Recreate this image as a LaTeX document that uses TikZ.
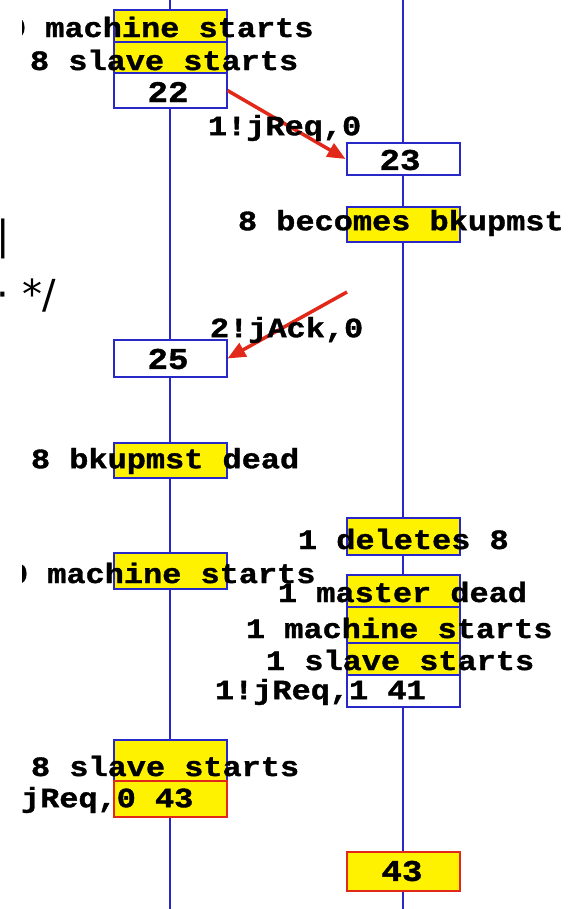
\documentclass[tikz,border=0pt]{standalone}
\usepackage{fontspec}
\usepackage{tikz}
\usetikzlibrary{positioning,arrows.meta}

\newfontfamily\mscfont[FakeStretch=1.14,FakeBold=1.3]{Liberation Mono}
\newfontfamily\edfont{DejaVu Sans}
\definecolor{mscblue}{RGB}{40,40,200}
\definecolor{mscred}{RGB}{225,40,25}

\begin{document}
\begin{tikzpicture}[x=1pt,y=-1pt,>={Triangle[length=18pt,width=15pt]},line width=2pt]
  \tikzstyle{evbox}=[rectangle,draw=mscblue,fill=yellow,minimum width=113pt,inner sep=0pt]
  \tikzstyle{stepbox}=[evbox,fill=white]
  \tikzstyle{endbox}=[evbox,draw=mscred]
  \tikzstyle{msg}=[font=\mscfont\bfseries\fontsize{28}{30}\selectfont,anchor=west,inner sep=0pt]
  \tikzstyle{num}=[font=\mscfont\bfseries\fontsize{30}{32}\selectfont,inner sep=0pt]
  \tikzstyle{sig}=[->,draw=mscred,line width=3.5pt]
  \tikzstyle{edtext}=[font=\edfont\fontsize{40}{40}\selectfont,anchor=west,inner sep=0pt]

  \useasboundingbox (0,0) rectangle (574,909);

  % lifelines of the two processes
  \coordinate (p0top) at (170,0);  \coordinate (p0bot) at (170,909);
  \coordinate (p1top) at (403,0);  \coordinate (p1bot) at (403,909);
  \draw[mscblue] (p0top) -- (p0bot);
  \draw[mscblue] (p1top) -- (p1bot);

  % process 0
  \node[evbox,minimum height=32pt]   (mach0)  at (170,26)    {};
  \node[evbox,minimum height=31pt]   (slave0) at (170,57.5)  {};
  \node[stepbox,minimum height=35pt] (s22)    at (170,90.5)  {};
  \node[stepbox,minimum height=37pt] (s25)    at (170,358.5) {};
  \node[evbox,minimum height=35pt]   (bkdead) at (170,460.5) {};
  \node[evbox,minimum height=36pt]   (mach0b) at (170,571)   {};
  \node[evbox,minimum height=41pt]   (slave0b) at (170,760.5) {};
  \node[endbox,minimum height=36pt]  (s43a)   at (170,799)   {};

  % process 1
  \node[stepbox,minimum height=32pt] (s23)    at (403,159)   {};
  \node[evbox,minimum height=35pt]   (becomes) at (403,224.5) {};
  \node[evbox,minimum height=37pt]   (deletes) at (403,536.5) {};
  \node[evbox,minimum height=32pt]   (mdead)  at (403,591)   {};
  \node[evbox,minimum height=36pt]   (mach1)  at (403,625)   {};
  \node[evbox,minimum height=32pt]   (slave1) at (403,659)   {};
  \node[stepbox,minimum height=32pt] (s41)    at (403,691)   {};
  \node[endbox,minimum height=39pt]  (s43b)   at (403,871.5) {};

  % messages
  \coordinate (ackfrom) at (347,292);
  \draw[sig] (s22.east) -- (s23.west);
  \draw[sig] (ackfrom) -- (s25.east);

  % step numbers
  \node[num] (n22) at (168,92)  {22};
  \node[num] (n23) at (400,160) {23};
  \node[num] (n25) at (168,359) {25};
  \node[num] (n43) at (402,871) {43};

  \begin{scope}
    \clip (22,0) rectangle (574,909);
    \node[msg] (t1)  at (6,27)    {0 machine starts};
    \node[msg] (t2)  at (29,60)   {8 slave starts};
    \node[msg] (t3)  at (207,128) {1!jReq,0};
    \node[msg] (t4)  at (237,223) {8 becomes bkupmst};
    \node[msg] (t5)  at (209,330) {2!jAck,0};
    \node[msg] (t6)  at (30,461)  {8 bkupmst dead};
    \node[msg] (t7)  at (297,539) {1 deletes 8};
    \node[msg] (t8)  at (8,573)   {0 machine starts};
    \node[msg] (t9)  at (277,592) {1 master dead};
    \node[msg] (t10) at (245,628) {1 machine starts};
    \node[msg] (t11) at (265,660) {1 slave starts};
    \node[msg] (t12) at (214,692) {1!jReq,1 41};
    \node[msg] (t13) at (30,766)  {8 slave starts};
    \node[msg] (t14) at (20,800)  {jReq,0 43};
  \end{scope}

  % bits of the editor window behind
  \node[edtext] (bar) at (-5,239) {|};
  \node[edtext] (cmt) at (-4,296) {· */};
\end{tikzpicture}
\end{document}
